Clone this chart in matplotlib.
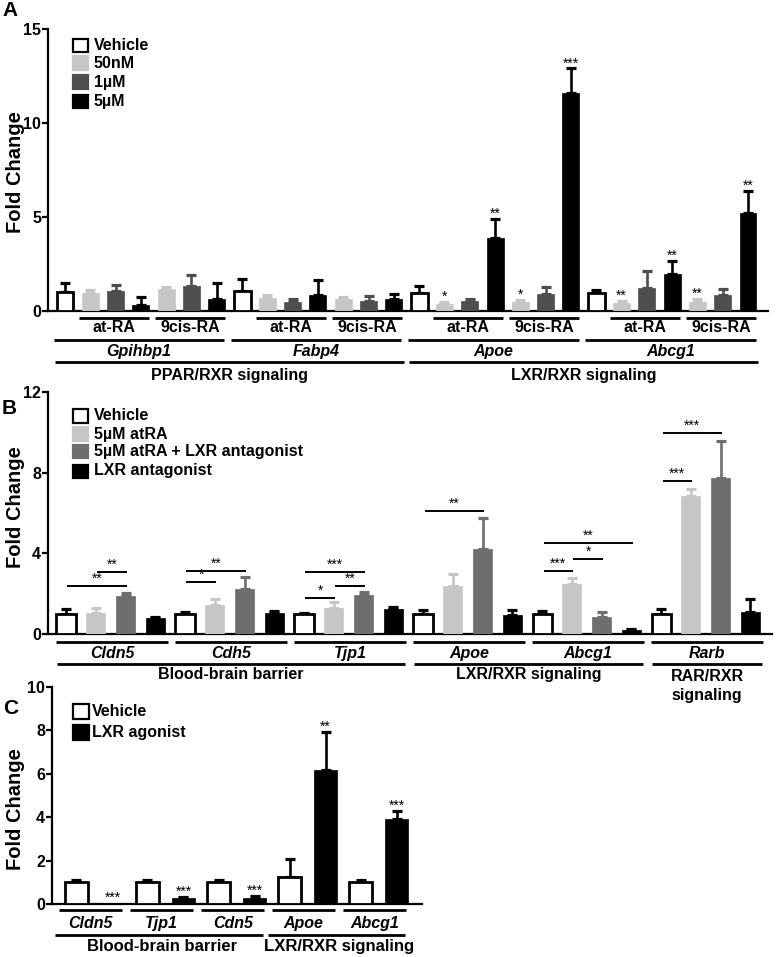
import numpy as np
import matplotlib.pyplot as plt
from matplotlib.patches import Rectangle
from matplotlib.transforms import blended_transform_factory

plt.rcParams['font.family'] = ['Liberation Sans', 'DejaVu Sans']
plt.rcParams['font.weight'] = 'bold'
plt.rcParams['axes.linewidth'] = 1.6

W, H = 777, 957

# ---------------- panel A data ----------------
a_genes = ['Gpihbp1', 'Fabp4', 'Apoe', 'Abcg1']
a_groups = ['PPAR/RXR signaling', 'LXR/RXR signaling']
a_drugs = ['at-RA', '9cis-RA']
a_legend = ['Vehicle', '50nM', '1\u00b5M', '5\u00b5M']
# per gene: vehicle, at-RA 50nM/1uM/5uM, 9cis-RA 50nM/1uM/5uM
a_means = [1.00, 0.95, 1.07, 0.32, 1.17, 1.35, 0.64,
           1.06, 0.68, 0.47, 0.85, 0.63, 0.54, 0.62,
           0.97, 0.37, 0.53, 3.87, 0.46, 0.90, 11.6,
           0.97, 0.40, 1.25, 1.96, 0.47, 0.83, 5.20]
a_errs = [0.50, 0.15, 0.31, 0.43, 0.11, 0.57, 0.86,
          0.62, 0.17, 0.17, 0.80, 0.12, 0.26, 0.28,
          0.36, 0.13, 0.12, 1.03, 0.12, 0.38, 1.30,
          0.13, 0.15, 0.90, 0.71, 0.17, 0.34, 1.20]
a_stars = ['', '', '', '', '', '', '',
           '', '', '', '', '', '', '',
           '', '*', '', '**', '*', '', '***',
           '', '**', '', '**', '**', '', '**']

# ---------------- panel B data ----------------
b_genes = ['Cldn5', 'Cdh5', 'Tjp1', 'Apoe', 'Abcg1', 'Rarb']
b_groups = ['Blood-brain barrier', 'LXR/RXR signaling', 'RAR/RXR\nsignaling']
b_legend = ['Vehicle', '5\u00b5M atRA', '5\u00b5M atRA + LXR antagonist', 'LXR antagonist']
b_means = [0.99, 1.02, 1.90, 0.78,
           0.97, 1.44, 2.21, 1.02,
           0.97, 1.30, 1.91, 1.22,
           0.99, 2.39, 4.21, 0.92,
           0.99, 2.46, 0.84, 0.20,
           0.99, 6.83, 7.76, 1.10]
b_errs = [0.23, 0.28, 0.15, 0.05,
          0.10, 0.28, 0.63, 0.12,
          0.08, 0.27, 0.15, 0.13,
          0.20, 0.58, 1.55, 0.27,
          0.16, 0.34, 0.25, 0.06,
          0.23, 0.35, 1.81, 0.62]
# (from bar, to bar, height, label)
b_sig = [(0, 2, 2.38, '**'), (1, 2, 3.07, '**'),
         (4, 5, 2.57, '*'), (4, 6, 3.12, '**'),
         (8, 9, 1.78, '*'), (9, 10, 2.38, '**'), (8, 10, 3.07, '***'),
         (12, 14, 6.10, '**'),
         (16, 17, 3.13, '***'), (17, 18, 3.70, '*'), (16, 19, 4.49, '**'),
         (20, 21, 7.59, '***'), (20, 22, 9.97, '***')]

# ---------------- panel C data ----------------
c_genes = ['Cldn5', 'Tjp1', 'Cdn5', 'Apoe', 'Abcg1']
c_groups = ['Blood-brain barrier', 'LXR/RXR signaling']
c_legend = ['Vehicle', 'LXR agonist']
c_vehicle = [1.00, 1.00, 1.00, 1.26, 1.00]
c_vehicle_err = [0.10, 0.10, 0.10, 0.80, 0.10]
c_agonist = [0.05, 0.26, 0.26, 6.17, 3.90]
c_agonist_err = [0.00, 0.08, 0.10, 1.77, 0.39]
c_stars = ['***', '***', '***', '**', '***']

LIGHT = '#c6c6c6'
DARK = '#4e4e4e'
MID = '#6e6e6e'

fig = plt.figure(figsize=(W / 100, H / 100), dpi=100)


def px_axes(x0, x1, y_top, y_bot):
    return fig.add_axes([x0 / W, 1 - y_bot / H, (x1 - x0) / W, (y_bot - y_top) / H])


def style(ax, ticks):
    ax.set_ylim(0, ticks[-1])
    ax.set_yticks(ticks)
    ax.spines[['top', 'right']].set_visible(False)
    ax.set_xticks([])
    ax.tick_params(axis='y', length=4, width=1.6, pad=1, labelsize=11.5)


def draw_bars(ax, x, means, errs, colors, width):
    for xi, m, e, c in zip(x, means, errs, colors):
        if c == 'white':
            ax.bar(xi, m, width, color='white', edgecolor='black', linewidth=2.0, zorder=3)
            ec = 'black'
        else:
            ax.bar(xi, m, width, color=c, edgecolor=c, linewidth=0.5, zorder=3)
            ec = c
        if e > 0:
            ax.errorbar(xi, m, yerr=[[0], [e]], fmt='none', ecolor=ec,
                        elinewidth=1.9, capsize=3.4, capthick=2.3, zorder=2)


def star(ax, x, y, s, dy=1):
    if s:
        ax.annotate(s, (x, y), xytext=(0, dy), textcoords='offset points',
                    ha='center', va='bottom', fontsize=10, fontweight='normal')


def under(ax, x0, x1, yf, lw=2.0):
    tr = blended_transform_factory(ax.transData, ax.transAxes)
    ax.plot([x0, x1], [yf, yf], transform=tr, color='black', lw=lw,
            clip_on=False, solid_capstyle='butt')


def under_text(ax, x, yf, s, size=10.5, italic=False):
    tr = blended_transform_factory(ax.transData, ax.transAxes)
    ax.text(x, yf, s, transform=tr, ha='center', va='center', fontsize=size,
            fontstyle='italic' if italic else 'normal', fontweight='bold',
            clip_on=False, linespacing=1.35)


def legend(labels, colors, rows, x=73, w=15, h=13, tx=94):
    for lab, c, ry in zip(labels, colors, rows):
        ec = 'black' if c == 'white' else c
        fig.add_artist(Rectangle((x / W, 1 - (ry + h / 2) / H), w / W, h / H,
                                 facecolor=c, edgecolor=ec, lw=1.6,
                                 transform=fig.transFigure))
        fig.text(tx / W, 1 - ry / H, lab, ha='left', va='center', fontsize=11.5)


def ylab(y):
    fig.text(15.5 / W, 1 - y / H, 'Fold Change', rotation=90, ha='center',
             va='center', fontsize=14.5)


# ================= Panel A =================
ax = px_axes(48, 768, 29, 311)
xa = np.arange(len(a_means))
a_cols = ['white', LIGHT, DARK, 'black', LIGHT, DARK, 'black'] * len(a_genes)
draw_bars(ax, xa, a_means, a_errs, a_cols, 0.67)
for xi, m, e, s in zip(xa, a_means, a_errs, a_stars):
    star(ax, xi, m + e, s, dy=-1.5)
ax.set_xlim(-0.672, 27.79)
style(ax, [0, 5, 10, 15])
for g, gene in enumerate(a_genes):
    b = 7 * g
    for k, drug in enumerate(a_drugs):
        s0, s1 = b + 1 + 3 * k, b + 3 + 3 * k
        under(ax, s0 - 0.45, s1 + 0.33, -0.025)
        under_text(ax, (s0 + s1) / 2 - 0.06, -0.060, drug, 11.5)
    under(ax, b - 0.45, b + 6 + 0.3, -0.103)
    under_text(ax, b + 3 - 0.07, -0.145, gene, 11.5, italic=True)
for k, grp in enumerate(a_groups):
    b0, b1 = 14 * k, 14 * k + 13
    under(ax, b0 - 0.4, b1 + 0.4, -0.181)
    under_text(ax, (b0 + b1) / 2, -0.227, grp, 11.5)
legend(a_legend, ['white', LIGHT, DARK, 'black'], [45.5, 63, 82, 101.5])
ylab(172)
fig.text(2 / W, 1 - 11 / H, 'A', fontsize=15, ha='left', va='center')

# ================= Panel B =================
ax = px_axes(48, 772, 392, 634)
xb = np.arange(len(b_means))
b_cols = ['white', LIGHT, MID, 'black'] * len(b_genes)
draw_bars(ax, xb, b_means, b_errs, b_cols, 0.64)
for i0, i1, y, s in b_sig:
    ax.plot([i0 + 0.05, i1 + 0.05], [y, y], color='black', lw=1.4,
            solid_capstyle='butt', zorder=4)
    ax.text((i0 + i1) / 2 + 0.05, y + 0.02, s, ha='center', va='bottom',
            fontsize=10, fontweight='normal')
ax.set_xlim(-0.605, 23.73)
style(ax, [0, 4, 8, 12])
for g, gene in enumerate(b_genes):
    b = 4 * g
    under(ax, b - 0.33, b + 3 + 0.42, -0.033)
    under_text(ax, b + 1.55, -0.080, gene, 11.5, italic=True)
for k, grp in enumerate(b_groups):
    b0 = [0, 12, 20][k]
    b1 = [11, 19, 23][k]
    under(ax, b0 - 0.3, b1 + 0.4, -0.124)
    yl = -0.169 if k < 2 else -0.215
    under_text(ax, (b0 + b1) / 2 + 0.05, yl, grp, 11.5)
legend(b_legend, ['white', LIGHT, MID, 'black'], [416, 434, 452, 471])
ylab(507)
fig.text(2 / W, 1 - 409 / H, 'B', fontsize=15, ha='left', va='center')

# ================= Panel C =================
ax = px_axes(52, 422, 687, 904)
xc = np.arange(len(c_genes))
w = 0.324
draw_bars(ax, xc, c_vehicle, c_vehicle_err, ['white'] * len(c_genes), w)
draw_bars(ax, xc + 0.507, c_agonist, c_agonist_err, ['black'] * len(c_genes), w)
for xi, m, e, s in zip(xc + 0.507, c_agonist, c_agonist_err, c_stars):
    star(ax, xi, m + e, s, dy=-1.5)
ax.set_xlim(-0.345, 4.866)
style(ax, [0, 2, 4, 6, 8, 10])
for g, gene in enumerate(c_genes):
    under(ax, g - 0.25, g + 0.507 + 0.14, -0.028)
    under_text(ax, g + 0.2, -0.088, gene, 11.5, italic=True)
for k, grp in enumerate(c_groups):
    g0, g1 = [(0, 2), (3, 4)][k]
    under(ax, g0 - 0.3, g1 + 0.507 + 0.12, -0.143)
    under_text(ax, (g0 + g1 + 0.507) / 2 - 0.05, -0.198, grp, 12)
legend(c_legend, ['white', 'black'], [711, 732], w=16, h=15, tx=92)
ylab(809)
fig.text(3 / W, 1 - 708 / H, 'C', fontsize=15, ha='left', va='center')

fig.savefig('out.png', dpi=100)
